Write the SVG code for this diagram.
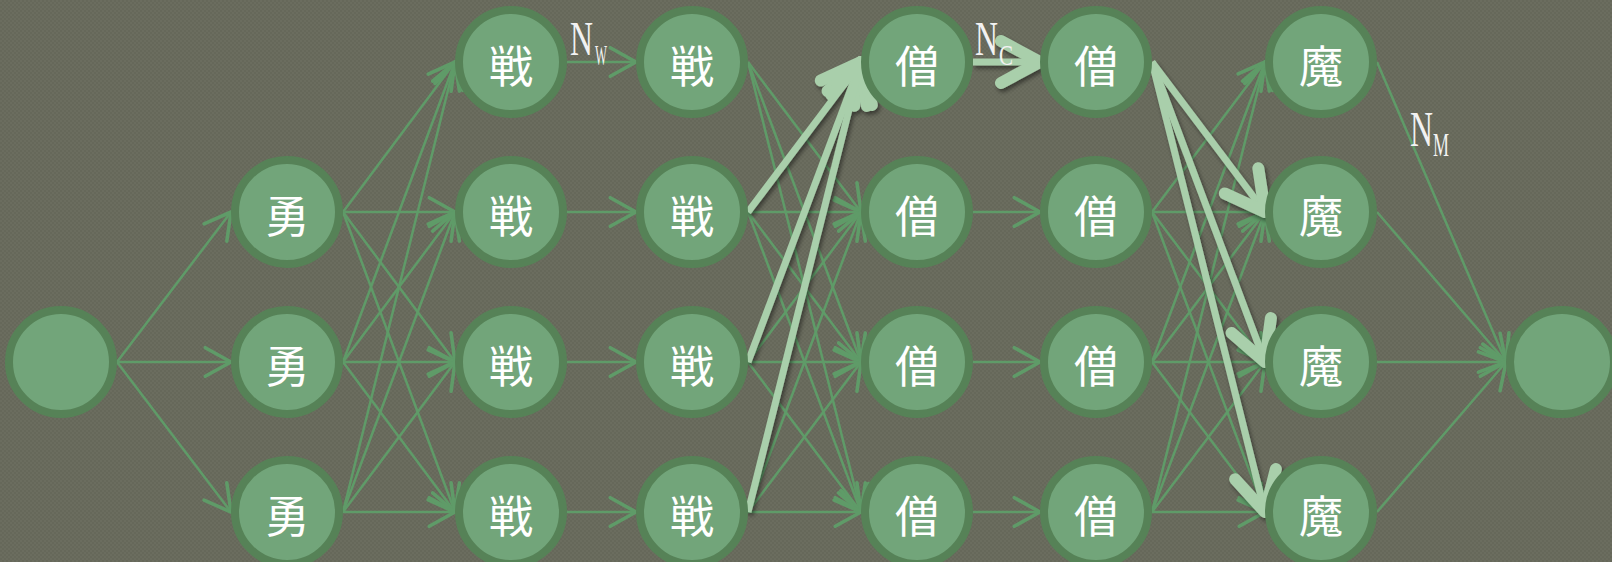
<svg xmlns="http://www.w3.org/2000/svg" width="1612" height="562" viewBox="0 0 1612 562">
<defs>
<pattern id="bg" width="4" height="4" patternUnits="userSpaceOnUse">
<rect width="4" height="4" fill="#66685a"/>
<rect width="2" height="2" fill="#6b6d5f"/>
<rect x="2" y="2" width="2" height="2" fill="#6b6d5f"/>
</pattern>
<marker id="ah" markerUnits="userSpaceOnUse" orient="auto" refX="0" refY="0" markerWidth="40" markerHeight="40" viewBox="-22 -14 26 28" overflow="visible">
<path d="M-18,-10 L0,0 L-18,10" fill="none" stroke="#5f9b68" stroke-width="2.5" stroke-linecap="round" stroke-linejoin="round"/>
</marker>
<marker id="ahT" markerUnits="userSpaceOnUse" orient="auto" refX="0" refY="0" markerWidth="60" markerHeight="60" viewBox="-34 -20 40 40" overflow="visible">
<path d="M-26,-14 L0,0 L-26,14" fill="none" stroke="#a9cfab" stroke-width="8" stroke-linecap="round" stroke-linejoin="round"/>
</marker>
<filter id="sh" filterUnits="userSpaceOnUse" x="0" y="0" width="1612" height="562">
<feDropShadow dx="2" dy="3" stdDeviation="2" flood-color="#000" flood-opacity="0.45"/>
</filter>
</defs>
<style>
.e{stroke:#5f9b68;stroke-width:2.5;fill:none;marker-end:url(#ah)}
.t{stroke:#a9cfab;stroke-width:7;fill:none;marker-end:url(#ahT)}
.n{fill:#72a57a;stroke:#568257;stroke-width:8}
.k{font-family:"Noto Sans CJK JP","Noto Sans CJK SC",sans-serif;font-size:44px;fill:#ffffff;text-anchor:middle}
.lb{font-family:"Liberation Serif",serif;fill:#f2f2f2}
</style>
<rect width="1612" height="562" fill="url(#bg)"/>
<g id="connectors">
<line class="e" x1="117" y1="362" x2="231" y2="212"/>
<line class="e" x1="117" y1="362" x2="231" y2="362"/>
<line class="e" x1="117" y1="362" x2="231" y2="512"/>
<line class="e" x1="343" y1="212" x2="455" y2="62"/>
<line class="e" x1="343" y1="212" x2="455" y2="212"/>
<line class="e" x1="343" y1="212" x2="455" y2="362"/>
<line class="e" x1="343" y1="212" x2="455" y2="512"/>
<line class="e" x1="343" y1="362" x2="455" y2="62"/>
<line class="e" x1="343" y1="362" x2="455" y2="212"/>
<line class="e" x1="343" y1="362" x2="455" y2="362"/>
<line class="e" x1="343" y1="362" x2="455" y2="512"/>
<line class="e" x1="343" y1="512" x2="455" y2="62"/>
<line class="e" x1="343" y1="512" x2="455" y2="212"/>
<line class="e" x1="343" y1="512" x2="455" y2="362"/>
<line class="e" x1="343" y1="512" x2="455" y2="512"/>
<line class="e" x1="567" y1="62" x2="636" y2="62"/>
<line class="e" x1="567" y1="212" x2="636" y2="212"/>
<line class="e" x1="567" y1="362" x2="636" y2="362"/>
<line class="e" x1="567" y1="512" x2="636" y2="512"/>
<line class="e" x1="748" y1="62" x2="861" y2="212"/>
<line class="e" x1="748" y1="62" x2="861" y2="362"/>
<line class="e" x1="748" y1="62" x2="861" y2="512"/>
<line class="e" x1="748" y1="212" x2="861" y2="212"/>
<line class="e" x1="748" y1="212" x2="861" y2="362"/>
<line class="e" x1="748" y1="212" x2="861" y2="512"/>
<line class="e" x1="748" y1="362" x2="861" y2="212"/>
<line class="e" x1="748" y1="362" x2="861" y2="362"/>
<line class="e" x1="748" y1="362" x2="861" y2="512"/>
<line class="e" x1="748" y1="512" x2="861" y2="212"/>
<line class="e" x1="748" y1="512" x2="861" y2="362"/>
<line class="e" x1="748" y1="512" x2="861" y2="512"/>
<line class="e" x1="973" y1="212" x2="1040" y2="212"/>
<line class="e" x1="973" y1="362" x2="1040" y2="362"/>
<line class="e" x1="973" y1="512" x2="1040" y2="512"/>
<line class="e" x1="1152" y1="212" x2="1265" y2="62"/>
<line class="e" x1="1152" y1="212" x2="1265" y2="212"/>
<line class="e" x1="1152" y1="212" x2="1265" y2="362"/>
<line class="e" x1="1152" y1="212" x2="1265" y2="512"/>
<line class="e" x1="1152" y1="362" x2="1265" y2="62"/>
<line class="e" x1="1152" y1="362" x2="1265" y2="212"/>
<line class="e" x1="1152" y1="362" x2="1265" y2="362"/>
<line class="e" x1="1152" y1="362" x2="1265" y2="512"/>
<line class="e" x1="1152" y1="512" x2="1265" y2="62"/>
<line class="e" x1="1152" y1="512" x2="1265" y2="212"/>
<line class="e" x1="1152" y1="512" x2="1265" y2="362"/>
<line class="e" x1="1152" y1="512" x2="1265" y2="512"/>
<line class="e" x1="1377" y1="62" x2="1506" y2="362"/>
<line class="e" x1="1377" y1="212" x2="1506" y2="362"/>
<line class="e" x1="1377" y1="362" x2="1506" y2="362"/>
<line class="e" x1="1377" y1="512" x2="1506" y2="362"/>
<g filter="url(#sh)">
<line class="t" x1="748" y1="212" x2="861" y2="62"/>
<line class="t" x1="748" y1="362" x2="861" y2="62"/>
<line class="t" x1="748" y1="512" x2="861" y2="62"/>
<line class="t" x1="973" y1="62" x2="1040" y2="62"/>
<line class="t" x1="1152" y1="62" x2="1265" y2="212"/>
<line class="t" x1="1152" y1="62" x2="1265" y2="362"/>
<line class="t" x1="1152" y1="62" x2="1265" y2="512"/>
</g>
</g>
<g id="labels">
<text class="lb" x="570" y="55"><tspan font-size="48" textLength="23" lengthAdjust="spacingAndGlyphs">N</tspan><tspan x="595" y="65" font-size="30" textLength="12" lengthAdjust="spacingAndGlyphs">W</tspan></text>
<text class="lb" x="975" y="55"><tspan font-size="48" textLength="23" lengthAdjust="spacingAndGlyphs">N</tspan><tspan x="999" y="65" font-size="30" textLength="14" lengthAdjust="spacingAndGlyphs">C</tspan></text>
<text class="lb" x="1410" y="146"><tspan font-size="50" textLength="23" lengthAdjust="spacingAndGlyphs">N</tspan><tspan x="1433" y="156" font-size="34" textLength="16" lengthAdjust="spacingAndGlyphs">M</tspan></text>
</g>
<g id="start"><circle class="n" cx="61" cy="362" r="52"/></g>
<g id="yuu2"><circle class="n" cx="287" cy="212" r="52"/><text class="k" x="287" y="233">勇</text></g>
<g id="yuu3"><circle class="n" cx="287" cy="362" r="52"/><text class="k" x="287" y="383">勇</text></g>
<g id="yuu4"><circle class="n" cx="287" cy="512" r="52"/><text class="k" x="287" y="533">勇</text></g>
<g id="sen1a"><circle class="n" cx="511" cy="62" r="52"/><text class="k" x="511" y="83">戦</text></g>
<g id="sen2a"><circle class="n" cx="511" cy="212" r="52"/><text class="k" x="511" y="233">戦</text></g>
<g id="sen3a"><circle class="n" cx="511" cy="362" r="52"/><text class="k" x="511" y="383">戦</text></g>
<g id="sen4a"><circle class="n" cx="511" cy="512" r="52"/><text class="k" x="511" y="533">戦</text></g>
<g id="sen1b"><circle class="n" cx="692" cy="62" r="52"/><text class="k" x="692" y="83">戦</text></g>
<g id="sen2b"><circle class="n" cx="692" cy="212" r="52"/><text class="k" x="692" y="233">戦</text></g>
<g id="sen3b"><circle class="n" cx="692" cy="362" r="52"/><text class="k" x="692" y="383">戦</text></g>
<g id="sen4b"><circle class="n" cx="692" cy="512" r="52"/><text class="k" x="692" y="533">戦</text></g>
<g id="sou1a"><circle class="n" cx="917" cy="62" r="52"/><text class="k" x="917" y="83">僧</text></g>
<g id="sou2a"><circle class="n" cx="917" cy="212" r="52"/><text class="k" x="917" y="233">僧</text></g>
<g id="sou3a"><circle class="n" cx="917" cy="362" r="52"/><text class="k" x="917" y="383">僧</text></g>
<g id="sou4a"><circle class="n" cx="917" cy="512" r="52"/><text class="k" x="917" y="533">僧</text></g>
<g id="sou1b"><circle class="n" cx="1096" cy="62" r="52"/><text class="k" x="1096" y="83">僧</text></g>
<g id="sou2b"><circle class="n" cx="1096" cy="212" r="52"/><text class="k" x="1096" y="233">僧</text></g>
<g id="sou3b"><circle class="n" cx="1096" cy="362" r="52"/><text class="k" x="1096" y="383">僧</text></g>
<g id="sou4b"><circle class="n" cx="1096" cy="512" r="52"/><text class="k" x="1096" y="533">僧</text></g>
<g id="ma1"><circle class="n" cx="1321" cy="62" r="52"/><text class="k" x="1321" y="83">魔</text></g>
<g id="ma2"><circle class="n" cx="1321" cy="212" r="52"/><text class="k" x="1321" y="233">魔</text></g>
<g id="ma3"><circle class="n" cx="1321" cy="362" r="52"/><text class="k" x="1321" y="383">魔</text></g>
<g id="ma4"><circle class="n" cx="1321" cy="512" r="52"/><text class="k" x="1321" y="533">魔</text></g>
<g id="end"><circle class="n" cx="1562" cy="362" r="52"/></g>
</svg>
